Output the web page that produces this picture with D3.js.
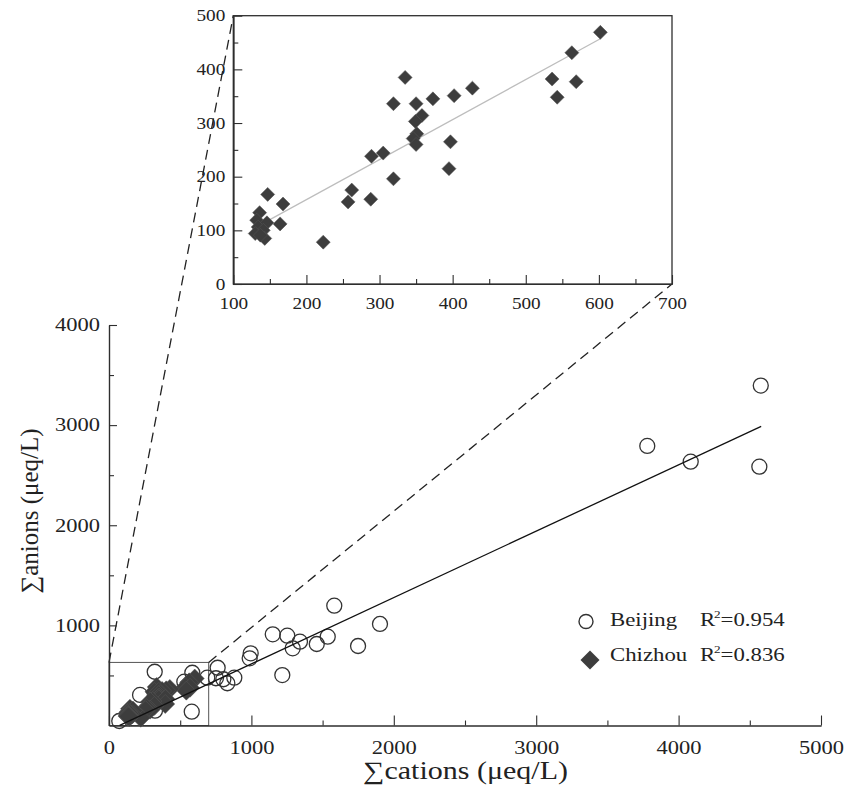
<!DOCTYPE html>
<html>
<head>
<meta charset="utf-8">
<script src="https://cdn.jsdelivr.net/npm/d3@7"></script>
<style>
  body { margin: 0; background: #fff; }
  text { font-family: "Liberation Serif", "Times New Roman", serif; fill: #222; }
</style>
</head>
<body>
<script>
// Beijing samples (open circles)
var beijingX = [4577, 3780, 4085, 4567, 1582, 1903, 1749, 1150, 1252, 1290, 1341, 1459, 1536,
  1217, 995, 988, 763, 690, 751, 803, 831, 880, 321, 218, 585, 529, 581, 72, 323];
var beijingY = [3395, 2792, 2635, 2585, 1197, 1014, 794, 911, 897, 771, 837, 814, 887,
  504, 721, 671, 577, 478, 472, 462, 422, 478, 537, 305, 527, 438, 138, 45, 148];

// Chizhou samples (diamonds)
var chizhouX = [602, 563, 536, 569, 543, 335, 427, 402, 373, 319, 350, 358, 349, 351, 346, 350,
  397, 395, 305, 289, 319, 288, 262, 257, 223, 147, 168, 164, 136, 132, 146, 134, 141, 130, 143, 137];
var chizhouY = [469, 431, 382, 377, 348, 385, 365, 351, 345, 336, 336, 314, 303, 280, 271, 260,
  265, 215, 244, 238, 196, 158, 175, 153, 78, 167, 149, 112, 133, 119, 114, 106, 100, 94, 85, 91];

// fitted lines (end points)
var beijingFitX = [75, 4580];
var beijingFitY = [2, 2988];
var chizhouFitX = [150, 602];
var chizhouFitY = [120, 457];

var mainXTicks = [0, 1000, 2000, 3000, 4000, 5000];
var mainYTicks = [1000, 2000, 3000, 4000];
var insetXTicks = [100, 200, 300, 400, 500, 600, 700];
var insetYTicks = [0, 100, 200, 300, 400, 500];
var zoomBox = [700, 630]; // area of the main plot shown in the inset

var legendNames = ["Beijing", "Chizhou"];
var legendR2 = ["0.954", "0.836"];

var w = 847;
var h = 797;
var ink = "#2e2e2e";
var diamondFill = "#3d3d3d";

var svg = d3.select("body")
  .append("svg")
  .attr("width", w)
  .attr("height", h);

svg.append("rect").attr("width", w).attr("height", h).attr("fill", "#fff");

var x = d3.scaleLinear().domain([0, 5000]).range([109, 821]);
var y = d3.scaleLinear().domain([0, 4000]).range([725.5, 325]);
var ix = d3.scaleLinear().domain([100, 700]).range([233.3, 672]);
var iy = d3.scaleLinear().domain([0, 500]).range([284, 15.7]);

var diamond = function(half) {
  return d3.symbol().type(d3.symbolSquare).size(2 * half * half)();
};

var styleAxis = function(g, fontSize, k) {
  g.select(".domain").attr("stroke", ink).attr("stroke-width", 1.2);
  g.selectAll(".tick line").attr("stroke", ink).attr("stroke-width", 1.1);
  g.selectAll("text")
    .attr("font-size", fontSize)
    .attr("fill", "#222")
    .attr("transform", "scale(" + k + ",1)");
  g.attr("font-family", null);
};

// ---- main plot ----
var main = svg.append("g");

// zoom box
main.append("rect")
  .attr("x", x(0))
  .attr("y", y(zoomBox[1]))
  .attr("width", x(zoomBox[0]) - x(0))
  .attr("height", y(0) - y(zoomBox[1]))
  .attr("fill", "none")
  .attr("stroke", "#555")
  .attr("stroke-width", 1);

// dashed guide lines to the inset
var guides = [
  [x(0), y(zoomBox[1]), ix(100), iy(500)],
  [x(zoomBox[0]), y(zoomBox[1]), ix(700), iy(0)]
];
main.selectAll(".guide")
  .data(guides)
  .enter()
  .append("line")
  .attr("x1", function(d) { return d[0]; })
  .attr("y1", function(d) { return d[1]; })
  .attr("x2", function(d) { return d[2]; })
  .attr("y2", function(d) { return d[3]; })
  .attr("stroke", "#222")
  .attr("stroke-width", 1.3)
  .attr("stroke-dasharray", "10,6");

// axes
var xMinor = main.append("g")
  .attr("transform", "translate(0," + y(0) + ")")
  .call(d3.axisBottom(x).tickValues(d3.range(500, 5000, 1000)).tickSize(-5).tickSizeOuter(0).tickFormat(""));
styleAxis(xMinor, 18, 1.25);
var xMajor = main.append("g")
  .attr("transform", "translate(0," + y(0) + ")")
  .call(d3.axisBottom(x).tickValues(mainXTicks).tickSize(-10).tickSizeOuter(0)
    .tickPadding(16).tickFormat(d3.format("d")));
styleAxis(xMajor, 18, 1.25);

var yMinor = main.append("g")
  .attr("transform", "translate(" + x(0) + ",0)")
  .call(d3.axisLeft(y).tickValues(d3.range(500, 4000, 1000)).tickSize(-5).tickSizeOuter(0).tickFormat(""));
styleAxis(yMinor, 18, 1.25);
var yMajor = main.append("g")
  .attr("transform", "translate(" + x(0) + ",0)")
  .call(d3.axisLeft(y).tickValues(mainYTicks).tickSize(-8).tickSizeOuter(0)
    .tickPadding(9).tickFormat(d3.format("d")));
styleAxis(yMajor, 18, 1.25);
yMajor.selectAll("text").attr("x", -9 / 1.25);

// Beijing circles
main.selectAll(".bj")
  .data(beijingX)
  .enter()
  .append("circle")
  .attr("cx", function(d) { return x(d); })
  .attr("cy", function(d, i) { return y(beijingY[i]); })
  .attr("r", 7.5)
  .attr("fill", "none")
  .attr("stroke", "#333")
  .attr("stroke-width", 1.3);

// Chizhou diamonds in main plot
main.selectAll(".cz")
  .data(chizhouX)
  .enter()
  .append("path")
  .attr("d", diamond(9.5))
  .attr("transform", function(d, i) {
    return "translate(" + x(d) + "," + y(chizhouY[i]) + ") rotate(45)";
  })
  .attr("fill", diamondFill)
  .attr("stroke", "#555")
  .attr("stroke-width", 0.5);

// Beijing fit
main.append("line")
  .attr("x1", x(beijingFitX[0]))
  .attr("y1", y(beijingFitY[0]))
  .attr("x2", x(beijingFitX[1]))
  .attr("y2", y(beijingFitY[1]))
  .attr("stroke", "#111")
  .attr("stroke-width", 1.3);

// axis titles
svg.append("text")
  .attr("transform", "translate(465.5,779) scale(1.2,1)")
  .attr("text-anchor", "middle")
  .attr("font-size", 25)
  .text("\u2211cations (\u03bceq/L)");

svg.append("text")
  .attr("transform", "translate(38,511) rotate(-90)")
  .attr("text-anchor", "middle")
  .attr("font-size", 25)
  .text("\u2211anions (\u03bceq/L)");

// legend
var legend = svg.append("g");
legend.append("circle")
  .attr("cx", 586).attr("cy", 621.5).attr("r", 7)
  .attr("fill", "none").attr("stroke", "#333").attr("stroke-width", 1.4);
legend.append("path")
  .attr("d", diamond(9.5))
  .attr("transform", "translate(590,660) rotate(45)")
  .attr("fill", diamondFill);

legendNames.forEach(function(name, i) {
  var by = i === 0 ? 626 : 661;
  legend.append("text")
    .attr("transform", "translate(610," + by + ") scale(1.2,1)")
    .attr("font-size", 19)
    .text(name);
  var t = legend.append("text")
    .attr("transform", "translate(700," + by + ") scale(1.2,1)")
    .attr("font-size", 19);
  t.append("tspan").text("R");
  t.append("tspan").attr("font-size", 11).attr("dy", -8).attr("dx", -1).text("2");
  t.append("tspan").attr("dy", 8).text("=" + legendR2[i]);
});

// ---- inset ----
var inset = svg.append("g");

inset.append("rect")
  .attr("x", ix(100))
  .attr("y", iy(500))
  .attr("width", ix(700) - ix(100))
  .attr("height", iy(0) - iy(500))
  .attr("fill", "#fff")
  .attr("stroke", ink)
  .attr("stroke-width", 1.3);

var ixMinor = inset.append("g")
  .attr("transform", "translate(0," + iy(0) + ")")
  .call(d3.axisBottom(ix).tickValues(d3.range(150, 700, 100)).tickSize(-5).tickSizeOuter(0).tickFormat(""));
styleAxis(ixMinor, 16, 1.2);
var ixMajor = inset.append("g")
  .attr("transform", "translate(0," + iy(0) + ")")
  .call(d3.axisBottom(ix).tickValues(insetXTicks).tickSize(-9).tickSizeOuter(0).tickPadding(14));
styleAxis(ixMajor, 16, 1.2);

var iyMinor = inset.append("g")
  .attr("transform", "translate(" + ix(100) + ",0)")
  .call(d3.axisLeft(iy).tickValues(d3.range(50, 500, 100)).tickSize(-5).tickSizeOuter(0).tickFormat(""));
styleAxis(iyMinor, 16, 1.2);
var iyMajor = inset.append("g")
  .attr("transform", "translate(" + ix(100) + ",0)")
  .call(d3.axisLeft(iy).tickValues(insetYTicks).tickSize(-9).tickSizeOuter(0).tickPadding(8));
styleAxis(iyMajor, 16, 1.2);
iyMajor.selectAll("text").attr("x", -8 / 1.2);

// Chizhou fit (light grey)
inset.append("line")
  .attr("x1", ix(chizhouFitX[0]))
  .attr("y1", iy(chizhouFitY[0]))
  .attr("x2", ix(chizhouFitX[1]))
  .attr("y2", iy(chizhouFitY[1]))
  .attr("stroke", "#bdbdbd")
  .attr("stroke-width", 1.2);

inset.selectAll(".czi")
  .data(chizhouX)
  .enter()
  .append("path")
  .attr("d", diamond(7))
  .attr("transform", function(d, i) {
    return "translate(" + ix(d) + "," + iy(chizhouY[i]) + ") rotate(45)";
  })
  .attr("fill", diamondFill)
  .attr("stroke", "#555")
  .attr("stroke-width", 0.5);
</script>
</body>
</html>
